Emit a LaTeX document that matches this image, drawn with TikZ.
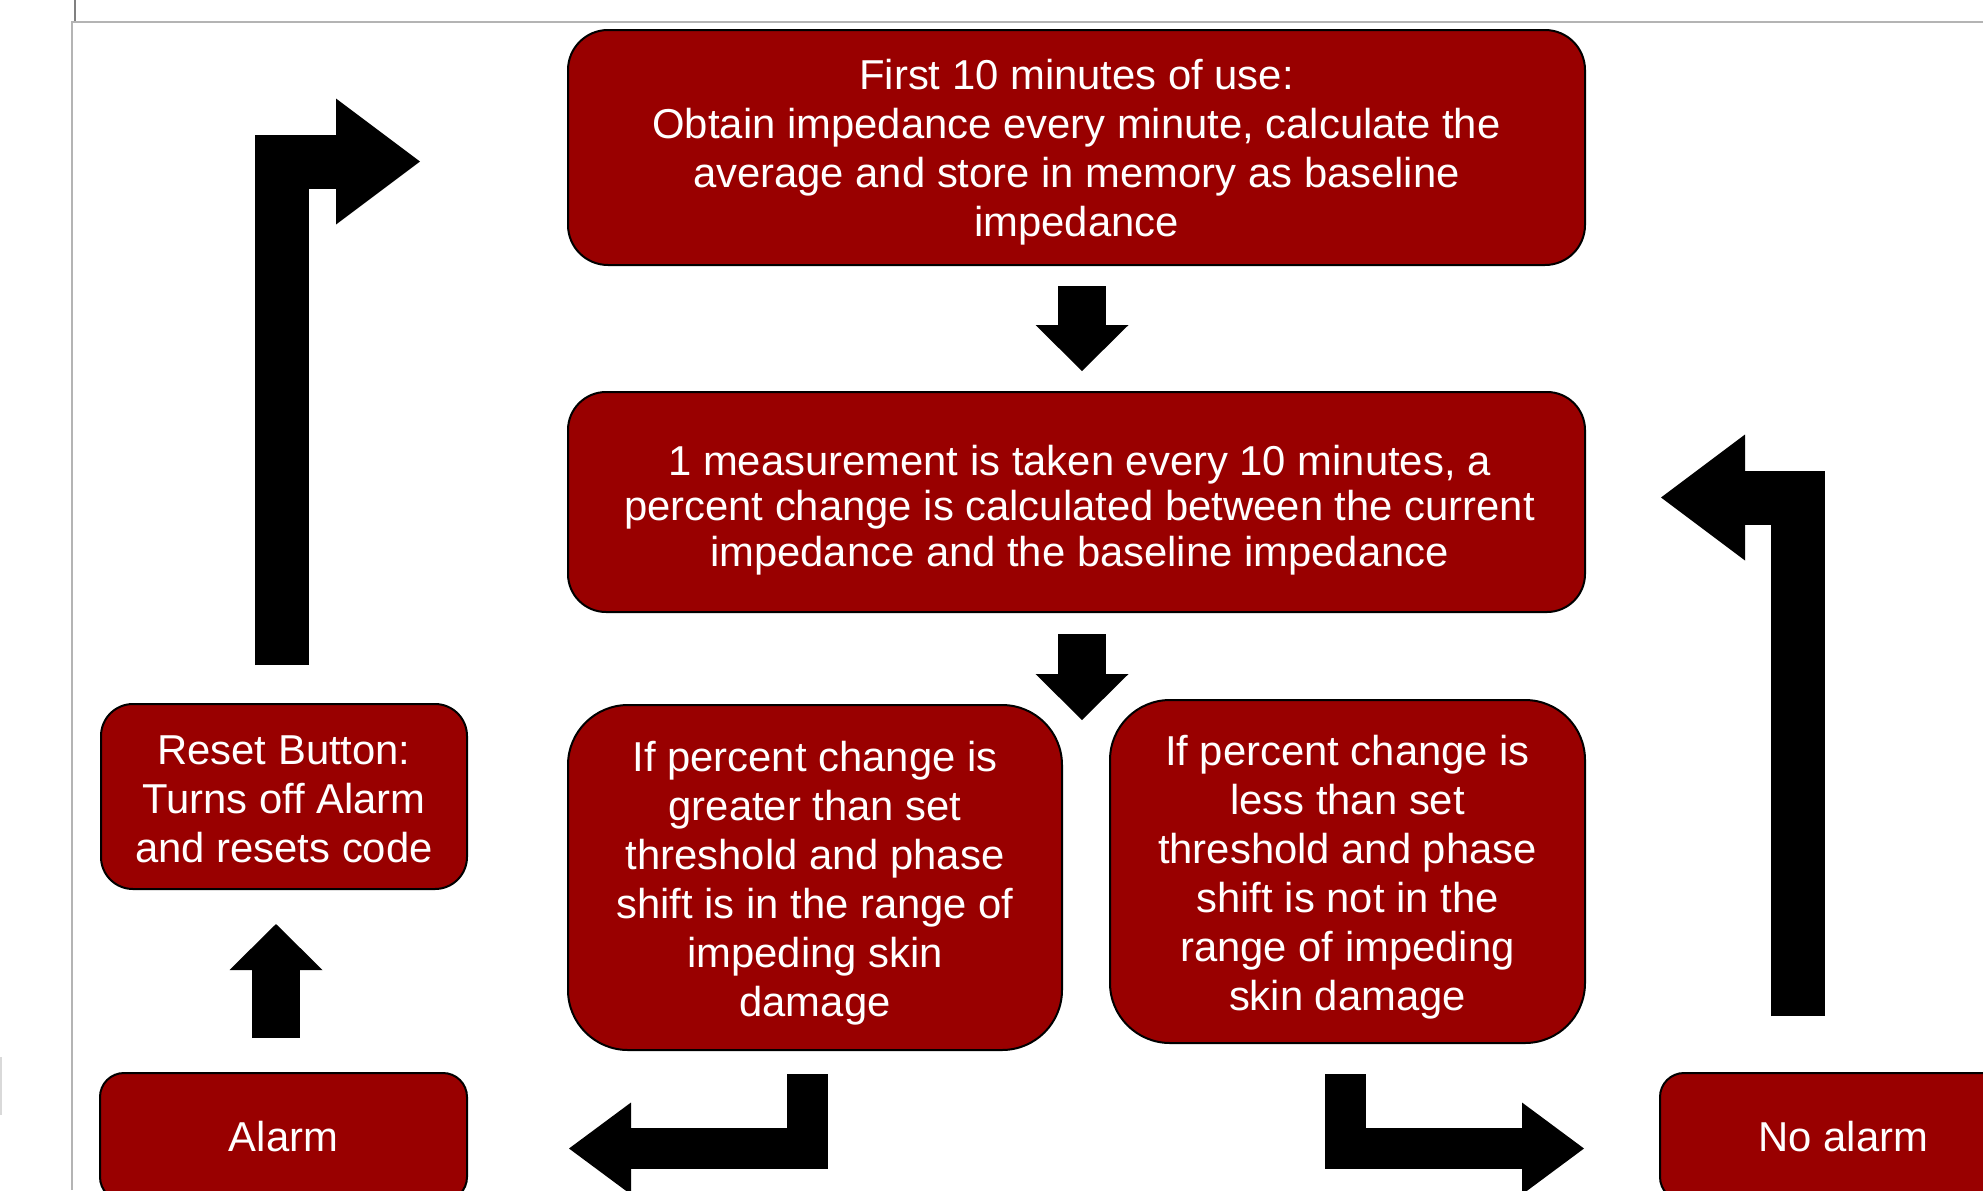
\documentclass[tikz,border=0pt]{standalone}
\usepackage{fontspec}
\setmainfont{Liberation Sans}
\usetikzlibrary{arrows.meta,calc}
\definecolor{boxred}{HTML}{990000}
\definecolor{framegray}{HTML}{B4B4B4}
\begin{document}
\begin{tikzpicture}[x=0.5pt,y=-0.5pt,
  box/.style={draw=black, line width=1pt, fill=boxred, inner sep=0pt},
  boxtext/.style={text=white, align=center, inner sep=0pt,
    font=\fontsize{20.9pt}{24.5pt}\selectfont},
  straightarrow/.style={draw=black, line width=24pt,
    -{Triangle[length=23pt,width=46.5pt,line width=0pt]}},
  elbowsmall/.style={draw=black, line width=20.5pt, line join=miter,
    -{Triangle[length=31pt,width=46pt,line width=0pt]}},
  elbowbig/.style={draw=black, line width=27pt, line join=miter,
    -{Triangle[length=42pt,width=63pt,line width=0pt]}},
]
\useasboundingbox (0,0) rectangle (1983,1190);
\clip (0,0) rectangle (1983,1190);

% page frame
\draw[framegray, line width=1pt] (72,1190) -- (72,22) -- (1983,22);
\draw[gray, line width=1pt] (75,0) -- (75,21);
\draw[gray!30, line width=1pt] (0.5,1057) -- (0.5,1115);

% process boxes
\node[box, minimum width=508.5pt, minimum height=117.5pt, rounded corners=20pt] (top) at (1076.5,147.5) {};
\node[boxtext] (topT) at ($(top.center)+(0,5)$) {First 10 minutes of use:\\Obtain impedance every minute, calculate the\\average and store in memory as baseline\\impedance};

\node[box, minimum width=508.5pt, minimum height=110pt, rounded corners=19pt] (mid) at (1076.5,502) {};
\node[boxtext, font=\fontsize{20.9pt}{22.8pt}\selectfont] (midT) at ($(mid.center)+(3,8)$) {1 measurement is taken every 10 minutes, a\\percent change is calculated between the current\\impedance and the baseline impedance};

\node[box, minimum width=247pt, minimum height=172.5pt, rounded corners=30pt] (gt) at (815,877.5) {};
\node[boxtext] (gtT) at ($(gt.center)+(0,6)$) {If percent change is\\greater than set\\threshold and phase\\shift is in the range of\\impeding skin\\damage};

\node[box, minimum width=237.5pt, minimum height=171.5pt, rounded corners=30pt] (lt) at (1347.5,871.5) {};
\node[boxtext] (ltT) at ($(lt.center)+(0,6)$) {If percent change is\\less than set\\threshold and phase\\shift is not in the\\range of impeding\\skin damage};

\node[box, minimum width=183pt, minimum height=92.5pt, rounded corners=16pt] (reset) at (284,796.5) {};
\node[boxtext] (resetT) at ($(reset.center)+(0,3)$) {Reset Button:\\Turns off Alarm\\and resets code};

\node[box, minimum width=183.5pt, minimum height=64pt, rounded corners=12pt] (alarm) at (283.5,1137) {};
\node[boxtext] (alarmT) at (alarm.center) {Alarm};

\node[box, minimum width=183.5pt, minimum height=64pt, rounded corners=12pt] (noalarm) at (1843.5,1137) {};
\node[boxtext] (noalarmT) at (noalarm.center) {No alarm};

% block arrows
\draw[straightarrow] ($(top.south)+(5.5,20)$) -- ($(mid.north)+(5.5,-20)$);
\coordinate (split) at ($(mid.south)+(5.5,107)$);
\draw[straightarrow] ($(mid.south)+(5.5,21)$) -- (split);
\draw[elbowsmall] ($(gt.south)+(-7.5,23)$) |- ($(alarm.east)+(101,11.5)$);
\draw[elbowsmall] ($(lt.south)+(-2.5,30)$) |- ($(noalarm.west)+(-75,11.5)$);
\draw[elbowbig] ($(noalarm.north)+(-45.5,-56)$) |- ($(mid.east)+(75,-4.5)$);
\draw[straightarrow] ($(alarm.north)+(-7.5,-34)$) -- ($(reset.south)+(-8,34)$);
\draw[elbowbig] ($(reset.north)+(-2,-38)$) |- ($(top.west)+(-147,14)$);
\end{tikzpicture}
\end{document}
